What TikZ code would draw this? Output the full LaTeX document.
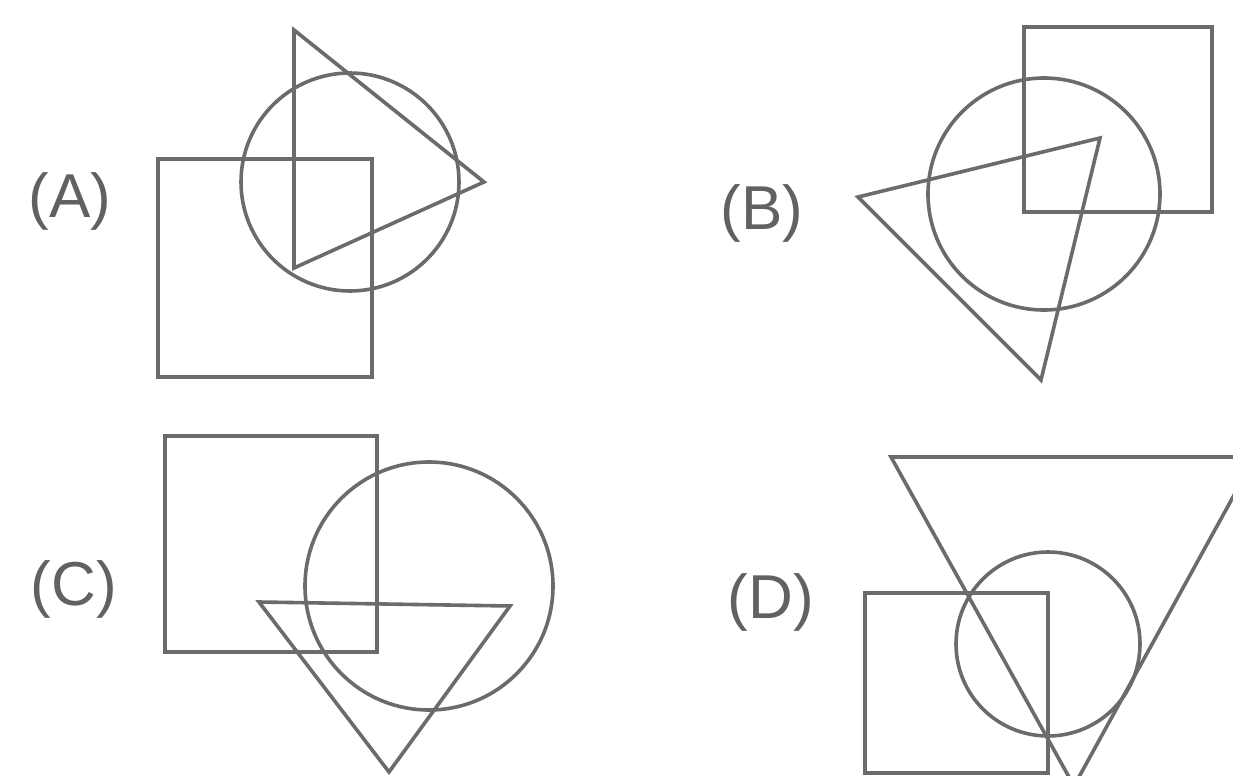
\documentclass[tikz,border=0pt]{standalone}
\usepackage{fontspec}
\setmainfont{Liberation Sans}

\begin{document}
\begin{tikzpicture}[
  x=0.5pt, y=-0.5pt,
  every node/.style={font=\fontsize{31}{36}\selectfont, text=black!62, inner sep=0pt},
  fig/.style={draw=black!58, line width=1.8pt, line join=miter}]
\useasboundingbox (0,0) rectangle (1233,776);
\clip (0,0) rectangle (1233,776);

% option A
\node (labA) at (70,201) {(A)};
\draw[fig] (158,159) rectangle (372,377);
\draw[fig] (350,182) circle[radius=109];
\draw[fig] (294,30) -- (484,182) -- (294,268) -- cycle;

% option B
\node (labB) at (762,213) {(B)};
\draw[fig] (1024,27) rectangle (1212,212);
\draw[fig] (1044,194) circle[radius=116];
\draw[fig] (858,197) -- (1100,138) -- (1041,380) -- cycle;

% option C
\node (labC) at (74,589) {(C)};
\draw[fig] (165,436) rectangle (377,652);
\draw[fig] (429,586) circle[radius=124];
\draw[fig] (259,602) -- (510,606) -- (389,772) -- cycle;

% option D
\node (labD) at (771,602) {(D)};
\draw[fig] (865,593) rectangle (1048,773);
\draw[fig] (1048,644) circle[radius=92];
\draw[fig] (891,457) -- (1255,457) -- (1074,786) -- cycle;
\end{tikzpicture}
\end{document}
